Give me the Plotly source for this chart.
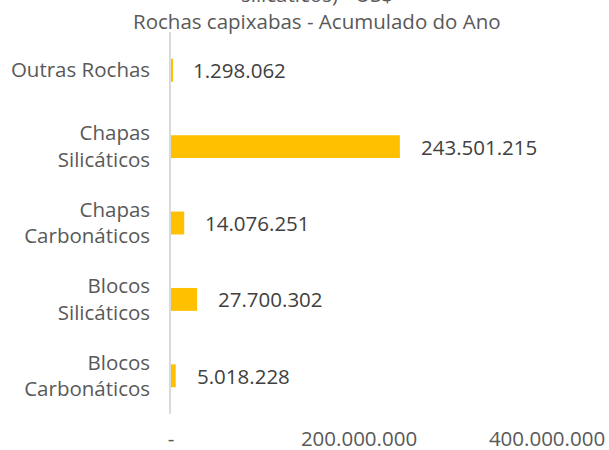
import plotly.graph_objects as go

categories = ["Blocos<br>Carbonáticos", "Blocos<br>Silicáticos", "Chapas<br>Carbonáticos",
              "Chapas<br>Silicáticos", "Outras Rochas"]
values = [5018228, 27700302, 14076251, 243501215, 1298062]
value_labels = ["5.018.228", "27.700.302", "14.076.251", "243.501.215", "1.298.062"]
tick_values = [0, 200000000, 400000000]
tick_labels = ["-", "200.000.000", "400.000.000"]
title_line1 = "silicáticos) - US$"
title_line2 = "Rochas capixabas - Acumulado do Ano"

FONT = "Open Sans"
GREY = "#595959"
FS = 20.5

fig = go.Figure()
fig.add_trace(go.Bar(
    y=categories, x=values, orientation="h",
    marker=dict(color="#FFC000", line=dict(width=0)),
    width=0.3, hoverinfo="skip",
))

for c, v, t in zip(categories, values, value_labels):
    fig.add_annotation(x=v, y=c, text=t, showarrow=False, xanchor="left",
                       xshift=19, font=dict(family=FONT, size=FS, color="#404040"))

fig.add_annotation(x=0.345, y=1.0, xref="paper", yref="paper", yanchor="middle",
                   yshift=38, text=title_line1, showarrow=False,
                   font=dict(family=FONT, size=FS, color=GREY))
fig.add_annotation(x=0.346, y=1.0, xref="paper", yref="paper", yanchor="middle",
                   yshift=11, text=title_line2, showarrow=False,
                   font=dict(family=FONT, size=FS, color=GREY))

fig.update_layout(
    width=609, height=450,
    margin=dict(l=171, r=15, t=32, b=36),
    paper_bgcolor="white", plot_bgcolor="white",
    showlegend=False,
    xaxis=dict(range=[0, 450000000], tickvals=tick_values, ticktext=tick_labels,
               showgrid=False, zeroline=False, showline=False, ticks="",
               automargin=False, ticklabelstandoff=10,
               tickfont=dict(family=FONT, size=FS, color=GREY)),
    yaxis=dict(showgrid=False, zeroline=False, showline=True, linecolor="#D9D9D9",
               linewidth=1.5, ticks="", ticklen=0, ticklabelstandoff=15,
               automargin=False,
               tickfont=dict(family=FONT, size=FS, color=GREY)),
)

fig.write_html("out.html", config={"displayModeBar": False},
               post_script="document.body.style.margin='0px';")
